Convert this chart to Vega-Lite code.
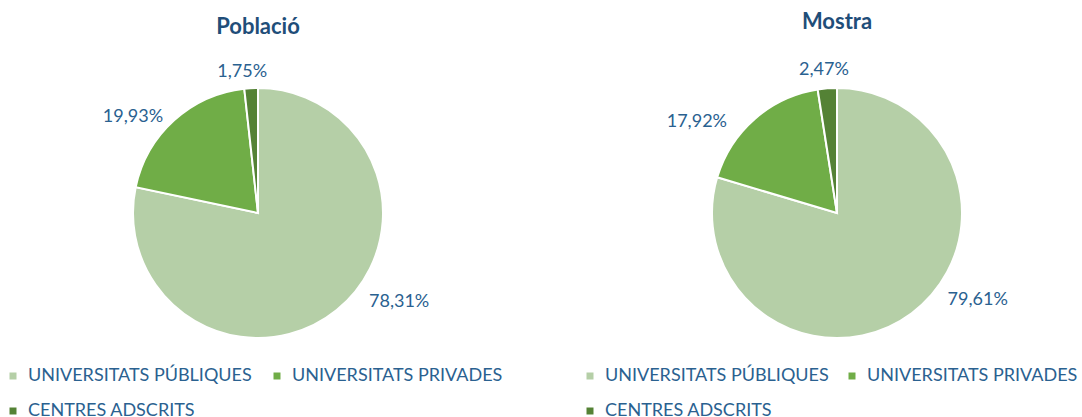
{
  "$schema": "https://vega.github.io/schema/vega-lite/v6.json",
  "background": "white",
  "padding": {"top": 11, "left": 0, "right": 0, "bottom": 0},
  "config": {
    "view": {"stroke": null},
    "font": "Lato",
    "title": {"font": "Lato", "fontSize": 22, "fontWeight": "bold", "color": "#1F4E79", "anchor": "middle"}
  },
  "datasets": {
    "d": [
      {"panel": "Població", "cat": "UNIVERSITATS PÚBLIQUES", "value": 78.31, "label": "78,31%", "ord": 1},
      {"panel": "Població", "cat": "UNIVERSITATS PRIVADES", "value": 19.93, "label": "19,93%", "ord": 2},
      {"panel": "Població", "cat": "CENTRES ADSCRITS", "value": 1.75, "label": "1,75%", "ord": 3},
      {"panel": "Mostra", "cat": "UNIVERSITATS PÚBLIQUES", "value": 79.61, "label": "79,61%", "ord": 1},
      {"panel": "Mostra", "cat": "UNIVERSITATS PRIVADES", "value": 17.92, "label": "17,92%", "ord": 2},
      {"panel": "Mostra", "cat": "CENTRES ADSCRITS", "value": 2.47, "label": "2,47%", "ord": 3}
    ]
  },
  "spacing": 63,
  "resolve": {"scale": {"color": "independent"}, "legend": {"color": "independent"}},
  "hconcat": [
    {
      "title": {"text": "Població", "offset": 5},
      "width": 516,
      "height": 330,
      "data": {"name": "d"},
      "transform": [{"filter": "datum.panel === 'Població'"}],
      "encoding": {
        "theta": {"field": "value", "type": "quantitative", "stack": true},
        "order": {"field": "ord", "type": "quantitative"}
      },
      "layer": [
        {
          "mark": {"type": "arc", "radius": 125, "stroke": "white", "strokeWidth": 2},
          "encoding": {
            "color": {
              "field": "cat", "type": "nominal",
              "scale": {"domain": ["UNIVERSITATS PÚBLIQUES", "UNIVERSITATS PRIVADES", "CENTRES ADSCRITS"], "range": ["#B5CFA7", "#70AD47", "#548235"]},
              "legend": {"title": null, "orient": "none", "direction": "horizontal", "legendX": 4, "legendY": 319, "columns": 2, "columnPadding": 16, "rowPadding": 17, "symbolType": "square", "symbolSize": 49, "symbolStrokeWidth": 0, "labelFont": "Lato", "labelFontSize": 18, "labelColor": "#2A6190", "labelOffset": 6, "labelLimit": 400}
            }
          }
        },
        {
          "mark": {"type": "text", "radius": 141, "dx": -8, "dy": 0, "fontSize": 18, "color": "#2A6190", "align": "center", "baseline": "middle"},
          "encoding": {"text": {"condition": {"test": "datum.ord === 3", "field": "label"}, "value": ""}}
        },
        {
          "mark": {"type": "text", "radius": 140, "dx": -31, "dy": 8, "fontSize": 18, "color": "#2A6190", "align": "center", "baseline": "middle"},
          "encoding": {"text": {"condition": {"test": "datum.ord === 2", "field": "label"}, "value": ""}}
        },
        {
          "mark": {"type": "text", "radius": 140, "dx": 53, "dy": -20, "fontSize": 18, "color": "#2A6190", "align": "center", "baseline": "middle"},
          "encoding": {"text": {"condition": {"test": "datum.ord === 1", "field": "label"}, "value": ""}}
        }
      ]
    },
    {
      "title": {"text": "Mostra", "offset": 5},
      "width": 516,
      "height": 330,
      "data": {"name": "d"},
      "transform": [{"filter": "datum.panel === 'Mostra'"}],
      "encoding": {
        "theta": {"field": "value", "type": "quantitative", "stack": true},
        "order": {"field": "ord", "type": "quantitative"}
      },
      "layer": [
        {
          "mark": {"type": "arc", "radius": 125, "stroke": "white", "strokeWidth": 2},
          "encoding": {
            "color": {
              "field": "cat", "type": "nominal",
              "scale": {"domain": ["UNIVERSITATS PÚBLIQUES", "UNIVERSITATS PRIVADES", "CENTRES ADSCRITS"], "range": ["#B5CFA7", "#70AD47", "#548235"]},
              "legend": {"title": null, "orient": "none", "direction": "horizontal", "legendX": 2, "legendY": 319, "columns": 2, "columnPadding": 14, "rowPadding": 17, "symbolType": "square", "symbolSize": 49, "symbolStrokeWidth": 0, "labelFont": "Lato", "labelFontSize": 18, "labelColor": "#2A6190", "labelOffset": 6, "labelLimit": 400}
            }
          }
        },
        {
          "mark": {"type": "text", "radius": 143, "dx": -2, "dy": 0, "fontSize": 18, "color": "#2A6190", "align": "center", "baseline": "middle"},
          "encoding": {"text": {"condition": {"test": "datum.ord === 3", "field": "label"}, "value": ""}}
        },
        {
          "mark": {"type": "text", "radius": 140, "dx": -48, "dy": 14, "fontSize": 18, "color": "#2A6190", "align": "center", "baseline": "middle"},
          "encoding": {"text": {"condition": {"test": "datum.ord === 2", "field": "label"}, "value": ""}}
        },
        {
          "mark": {"type": "text", "radius": 140, "dx": 57, "dy": -25, "fontSize": 18, "color": "#2A6190", "align": "center", "baseline": "middle"},
          "encoding": {"text": {"condition": {"test": "datum.ord === 1", "field": "label"}, "value": ""}}
        }
      ]
    }
  ]
}
